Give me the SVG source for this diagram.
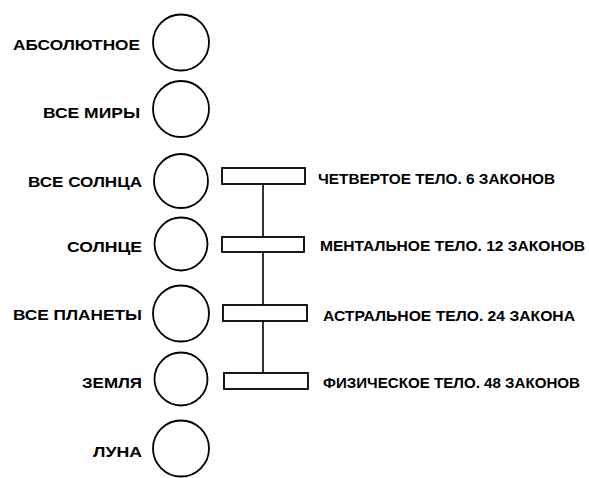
<svg xmlns="http://www.w3.org/2000/svg" width="589" height="478" viewBox="0 0 589 478">
<style>
.c{fill:none;stroke:#000;stroke-width:1.8}
.b{fill:#fff;stroke:#000;stroke-width:1.8}
.l{stroke:#000;stroke-width:1.6;fill:none}
text{font-family:"Liberation Sans",Arial,sans-serif;font-weight:bold;font-size:15.5px;fill:#000}
.r{text-anchor:end}
</style>
<rect width="589" height="478" fill="#fff"/>
<g id="connectors">
<line class="l" x1="263" y1="184" x2="263" y2="373"/>
</g>
<g id="n-absolute"><circle class="c" cx="181" cy="42.5" r="28"/><text class="r" x="140" y="50" textLength="127" lengthAdjust="spacingAndGlyphs">АБСОЛЮТНОЕ</text></g>
<g id="n-allworlds"><circle class="c" cx="181" cy="109" r="28"/><text class="r" x="140" y="118" textLength="97" lengthAdjust="spacingAndGlyphs">ВСЕ МИРЫ</text></g>
<g id="n-allsuns"><circle class="c" cx="181" cy="181" r="27"/><text class="r" x="142" y="186.5" textLength="114" lengthAdjust="spacingAndGlyphs">ВСЕ СОЛНЦА</text></g>
<g id="n-sun"><circle class="c" cx="181" cy="244" r="26.5"/><text class="r" x="142" y="251.5" textLength="75" lengthAdjust="spacingAndGlyphs">СОЛНЦЕ</text></g>
<g id="n-allplanets"><circle class="c" cx="181" cy="313.5" r="28"/><text class="r" x="142" y="320" textLength="129" lengthAdjust="spacingAndGlyphs">ВСЕ ПЛАНЕТЫ</text></g>
<g id="n-earth"><circle class="c" cx="181" cy="379" r="26.5"/><text class="r" x="142" y="387.5" textLength="60" lengthAdjust="spacingAndGlyphs">ЗЕМЛЯ</text></g>
<g id="n-moon"><circle class="c" cx="181" cy="448.5" r="28"/><text class="r" x="142" y="456.5" textLength="49" lengthAdjust="spacingAndGlyphs">ЛУНА</text></g>
<g id="b-fourth"><rect class="b" x="222" y="168" width="83" height="16"/><text x="318" y="183.5" textLength="237" lengthAdjust="spacingAndGlyphs">ЧЕТВЕРТОЕ ТЕЛО. 6 ЗАКОНОВ</text></g>
<g id="b-mental"><rect class="b" x="222" y="237" width="82" height="15"/><text x="320" y="250.5" textLength="265" lengthAdjust="spacingAndGlyphs">МЕНТАЛЬНОЕ ТЕЛО. 12 ЗАКОНОВ</text></g>
<g id="b-astral"><rect class="b" x="223" y="305" width="84" height="16"/><text x="323" y="320.5" textLength="252" lengthAdjust="spacingAndGlyphs">АСТРАЛЬНОЕ ТЕЛО. 24 ЗАКОНА</text></g>
<g id="b-physical"><rect class="b" x="224" y="373" width="84" height="16"/><text x="323" y="388" textLength="257" lengthAdjust="spacingAndGlyphs">ФИЗИЧЕСКОЕ ТЕЛО. 48 ЗАКОНОВ</text></g>
</svg>
